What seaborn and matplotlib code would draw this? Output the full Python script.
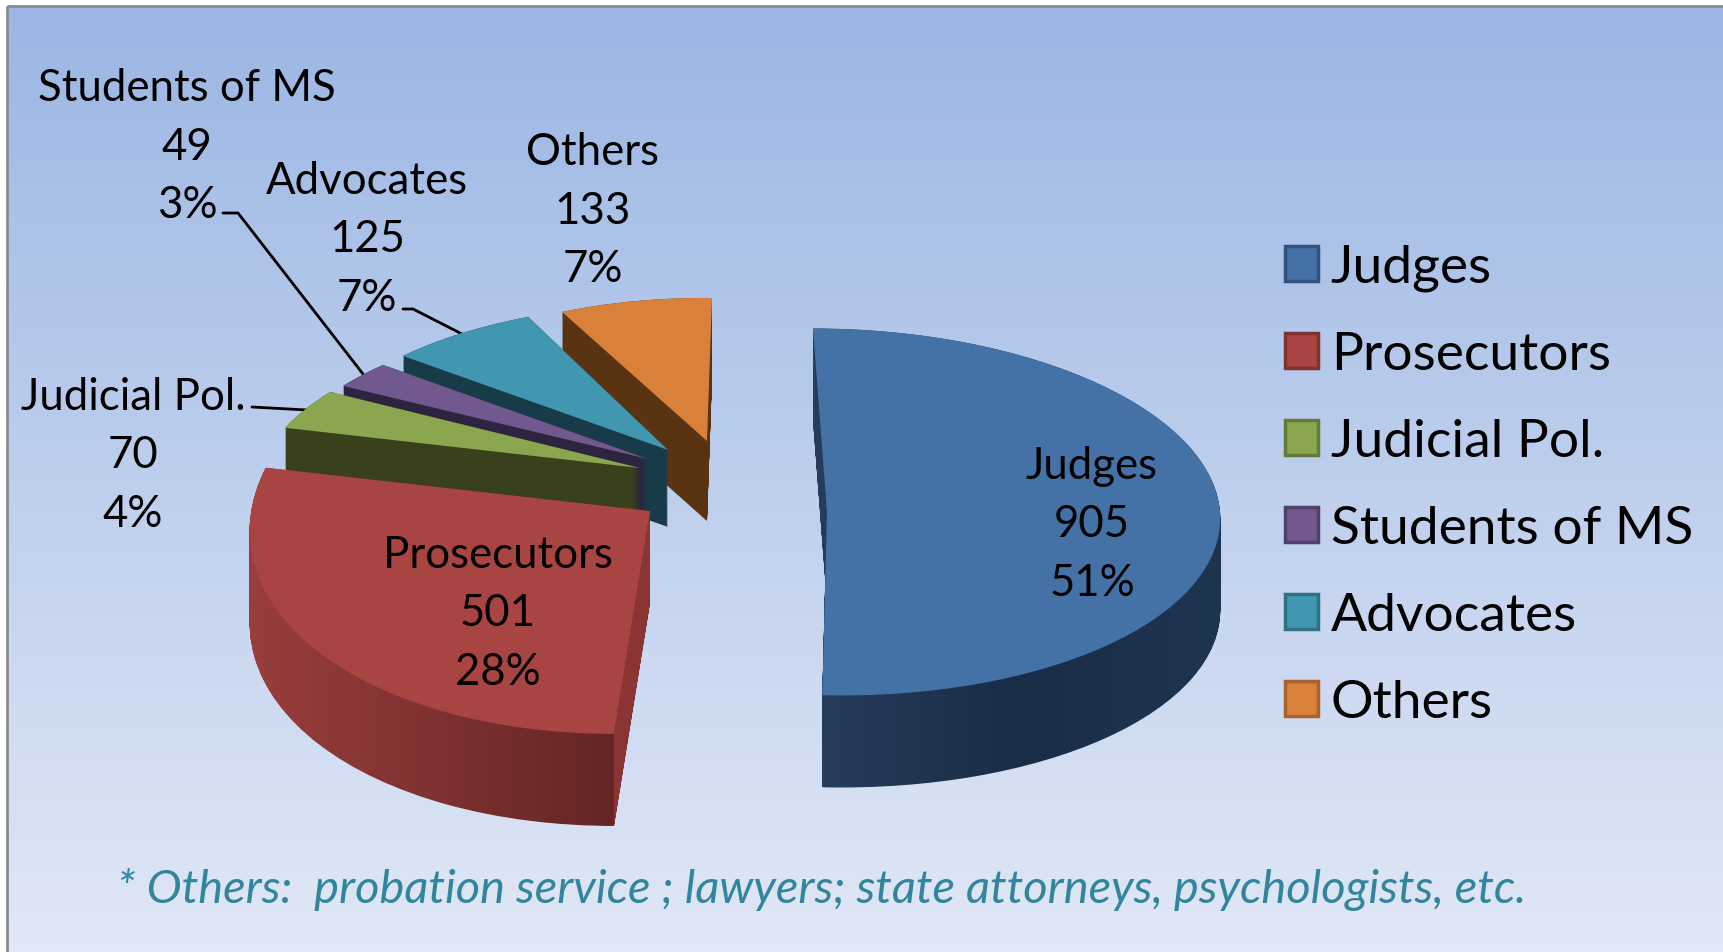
import numpy as np
import seaborn as sns
import matplotlib.pyplot as plt
from matplotlib.colors import LinearSegmentedColormap
from matplotlib.patches import Patch, PathPatch, Polygon, Rectangle
from matplotlib.path import Path
from matplotlib.transforms import Affine2D

names = ['Judges', 'Prosecutors', 'Judicial Pol.', 'Students of MS', 'Advocates', 'Others']
values = [905, 501, 70, 49, 125, 133]
footnote = '* Others:  probation service ; lawyers; state attorneys, psychologists, etc.'

top_colors = ['#4471a6', '#a84442', '#8aa64e', '#71588f', '#4097af', '#d9803a']
edge_colors = ['#2f5282', '#7f3230', '#66793a', '#533f6b', '#2f7182', '#a8622b']
side_colors = ['#1b2f49', '#8a3533', '#38401c', '#2d2440', '#173b48', '#5a3312']

# the old chart is a perspective pie, so every slice gets its own projection
# (a, b, c, d) stretch the unit circle, (cx, cy) is the tip in pixels
proj = [(393, -14, 0, 183.5, 827, 513),
        (400, 17, 10.5, 222.7, 650, 512),
        (378, 50.8, -2.6, 157, 640, 469),
        (365.8, 38.5, -4.2, 147.7, 648, 460),
        (352.9, 21.9, -5, 146.7, 668, 451),
        (330.7, 5, -3.2, 143, 707, 442)]
depth = [92, 92, 78, 78, 77, 80]
order = [5, 4, 3, 2, 1, 0]  # back to front

sns.set_theme(style='white')
plt.rcParams['font.family'] = ['Lato', 'DejaVu Sans']

fig = plt.figure(figsize=(17.24, 9.53), dpi=100)
ax = fig.add_axes([0, 0, 1, 1])

# background
bg = LinearSegmentedColormap.from_list('bg', ['#9bb6e4', '#e1e8f6'])
ax.imshow(np.linspace(0, 1, 256).reshape(-1, 1), cmap=bg, extent=(7, 1724, 953, 7), aspect='auto', zorder=0)
ax.add_patch(Rectangle((7, 7), 1760, 1000, fill=False, ec='#8c8c8c', lw=2, zorder=1))

wedges, _ = ax.pie(values, startangle=90, counterclock=False, colors=top_colors, wedgeprops=dict(lw=0))

grads = {0: ['#263d5c', '#1a2d47', '#1e3552'], 1: ['#9a3e3c', '#7c3130', '#5f2322']}

for z, i in enumerate(order):
    w = wedges[i]
    a, b, c, d, cx, cy = proj[i]
    m = Affine2D(np.array([[a, b, cx], [-c, -d, cy], [0, 0, 1.0]]))
    w.set_transform(m + ax.transData)
    w.set_zorder(10 + z + 0.5)

    # extruded side: same slice pushed down pixel by pixel
    base = w.get_path()
    sweep = Path.make_compound_path(*[base.transformed(m + Affine2D().translate(0, k)) for k in range(depth[i] + 1)])
    if i in grads:
        cm = LinearSegmentedColormap.from_list('side%d' % i, grads[i])
        x0, x1 = sweep.vertices[:, 0].min(), sweep.vertices[:, 0].max()
        y0, y1 = sweep.vertices[:, 1].min(), sweep.vertices[:, 1].max()
        im = ax.imshow(np.linspace(0, 1, 256).reshape(1, -1), cmap=cm, extent=(x0, x1, y1, y0), aspect='auto', zorder=10 + z)
        im.set_clip_path(sweep, transform=ax.transData)
    else:
        ax.add_patch(PathPatch(sweep, fc=side_colors[i], ec='none', zorder=10 + z))

# right face of the red slice
w = wedges[1]
a, b, c, d, cx, cy = proj[1]
m = Affine2D(np.array([[a, b, cx], [-c, -d, cy], [0, 0, 1.0]]))
th = np.deg2rad(w.theta2)
tip = m.transform([0, 0])
rim = m.transform([np.cos(th), np.sin(th)])
ax.add_patch(Polygon([tip, tip + [0, depth[1]], rim + [0, depth[1]], rim], fc=side_colors[1], ec='none',
                     zorder=10 + order.index(1) + 0.2))

ax.set_xlim(0, 1724)
ax.set_ylim(953, 0)
ax.set_aspect('auto')
ax.axis('off')
ax.add_patch(Rectangle((0, 0), 1724, 953, fc='white', ec='none', zorder=-1))

# data labels
total = sum(values)
label_pos = [(1092, 525), (498, 614), (133, 456), (187, 147), (367, 240), (593, 211)]
for i in range(len(names)):
    txt = '%s\n%d\n%d%%' % (names[i], values[i], round(100 * values[i] / total))
    ax.text(label_pos[i][0], label_pos[i][1], txt, ha='center', va='center', fontsize=31.5, color='black',
            linespacing=1.54, zorder=30)

# leader lines
ax.plot([252, 307], [408, 411], color='black', lw=2, zorder=9)
ax.plot([223, 238, 363], [214, 214, 375], color='black', lw=2, zorder=9)
ax.plot([403, 413, 462], [310, 310, 335], color='black', lw=2, zorder=9)

handles = [Patch(fc=top_colors[i], ec=edge_colors[i], lw=2.5, label=names[i]) for i in range(len(names))]
leg = ax.legend(handles=handles, loc='upper left', bbox_to_anchor=(1285 / 1724, 1 - 245 / 953), frameon=False,
                fontsize=38.4, handlelength=0.62, handleheight=0.62, handletextpad=0.24, labelspacing=0.75,
                borderpad=0, borderaxespad=0)
leg.set_zorder(30)
for t in leg.get_texts():
    t.set_color('black')

ax.text(117, 890, footnote, fontsize=33.8, style='italic', color='#31859c', ha='left', va='center', zorder=30)

fig.savefig('out.png', dpi=100)
